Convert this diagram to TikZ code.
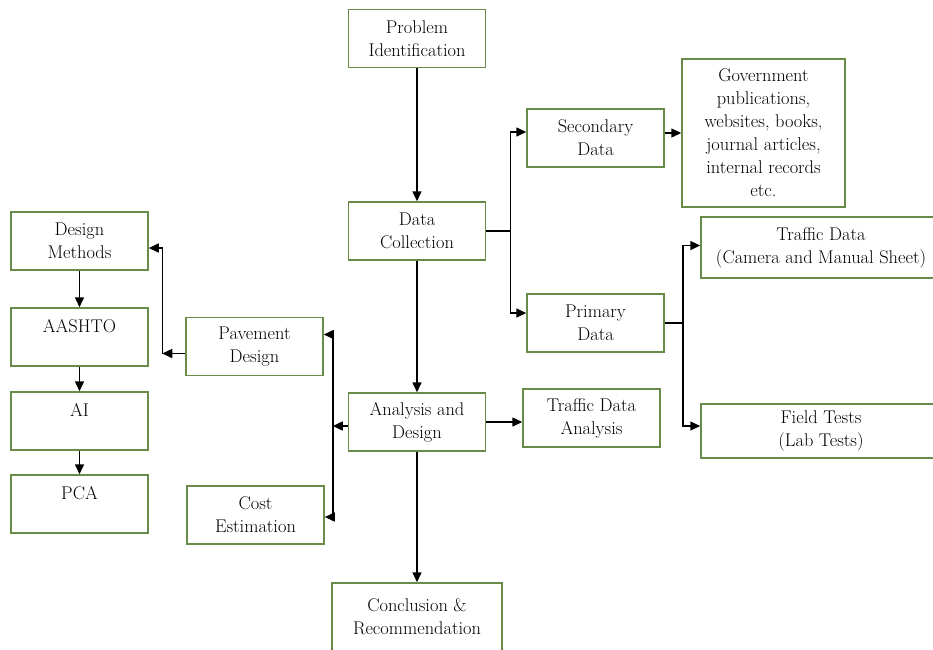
\documentclass[tikz,border=0pt]{standalone}
\usetikzlibrary{arrows.meta, positioning}
\definecolor{boxgreen}{RGB}{104,140,72}

\begin{document}
\begin{tikzpicture}[x=1pt, y=-1pt,
    font=\fontsize{18.4}{23}\selectfont,
    box/.style={draw=boxgreen, line width=1.5pt, fill=white, align=center,
      minimum width=137pt, minimum height=58pt, inner sep=2pt},
    arr/.style={-{Triangle[length=10pt,width=9pt]}, line width=1.5pt}]
      \useasboundingbox (0,0) rectangle (933,649);
      \node[box] (prob) at (417,38.5) {Problem\\Identification};
      \node[box] (coll) at (417,231) {Data\\Collection};
      \node[box] (anal) at (417,422) {Analysis and\\Design};
      \node[box, minimum width=170pt, minimum height=68pt] (concl) at (417,617) {Conclusion \&\\Recommendation};
      \node[box] (tda) at (591.5,418) {Traffic Data\\Analysis};
      \node[box] (sec) at (595.5,138) {Secondary\\Data};
      \node[box] (prim) at (595.5,323) {Primary\\Data};
      \node[box, minimum width=163pt, minimum height=148pt] (gov) at (763.5,133)
        {Government\\publications,\\websites, books,\\journal articles,\\internal records\\etc.};
      \node[box, minimum width=240pt, minimum height=61pt] (traf) at (821,247.5)
        {Traffic Data\\(Camera and Manual Sheet)};
      \node[box, minimum width=240pt, minimum height=54pt] (field) at (821,431)
        {Field Tests\\(Lab Tests)};
      \node[box] (des) at (79.5,241) {Design\\Methods};
      \node[box] (aash) at (79.5,337) {AASHTO\\~};
      \node[box] (ai) at (79.5,421) {AI\\~};
      \node[box] (pca) at (79.5,504) {PCA\\~};
      \node[box] (pav) at (254.5,346.5) {Pavement\\Design};
      \node[box] (cost) at (255.5,515) {Cost\\Estimation};

      % main column
      \draw[arr] (prob) -- (coll);
      \draw[arr] (coll) -- (anal);
      \draw[arr] (anal) -- (concl);
      \draw[arr] (anal.east) -- (anal.east -| tda.west);

      % data branches
      \draw[line width=1.5pt] (coll.east) -- ++(24,0) coordinate (j1);
      \draw[arr] (j1) |- ([yshift=6pt]sec.west);
      \draw[arr] (j1) |- ([yshift=10pt]prim.west);
      \draw[arr] (gov.west -| sec.east) -- (gov.west);
      \draw[line width=1.5pt] (prim.east) -- ++(18,0) coordinate (j2);
      \draw[arr] (j2) |- ([yshift=2pt]traf.west);
      \draw[arr] (j2) |- ([yshift=5pt]field.west);

      % design branches
      \coordinate (j3) at ([xshift=-15pt,yshift=-4pt]anal.west);
      \draw[arr] ([yshift=-4pt]anal.west) -- (j3);
      \draw[arr] (j3) |- ([yshift=12pt]pav.east);
      \draw[arr] (j3) |- ([yshift=-2pt]cost.east);
      \coordinate (j4) at ([xshift=-23pt,yshift=-7pt]pav.west);
      \draw[arr] ([yshift=-7pt]pav.west) -- (j4);
      \draw[arr] (j4) |- ([yshift=-7pt]des.east);
      \draw[arr] (des) -- (aash);
      \draw[arr] (aash) -- (ai);
      \draw[arr] (ai) -- (pca);
\end{tikzpicture}
\end{document}
